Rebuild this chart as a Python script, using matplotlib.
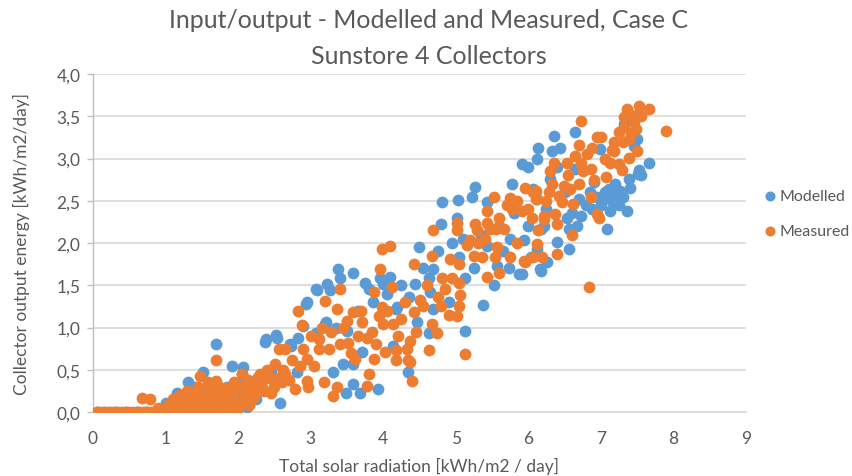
import matplotlib

matplotlib.use("Agg")
import matplotlib.pyplot as plt

plt.rcParams["font.family"] = ["Lato", "DejaVu Sans"]

TITLE_LINES = ["Input/output - Modelled and Measured, Case C", "Sunstore 4 Collectors"]
X_LABEL = "Total solar radiation [kWh/m2 / day]"
Y_LABEL = "Collector output energy [kWh/m2/day]"
SERIES = ["Modelled", "Measured"]
X_TICKS = [0, 1, 2, 3, 4, 5, 6, 7, 8, 9]
Y_TICKS = [0.0, 0.5, 1.0, 1.5, 2.0, 2.5, 3.0, 3.5, 4.0]

# Modelled (blue) points
mod_x = [
    0.05, 0.15, 0.3, 0.45, 0.6, 0.75, 0.9, 1.0, 1.1, 1.2, 1.3, 1.45, 1.6, 1.75,
    1.01, 1.1, 1.16, 1.25, 1.31, 1.38, 1.45, 1.52, 1.6, 1.65, 1.69, 1.75, 1.85,
    1.91, 2.07, 2.12, 2.0, 2.28, 2.2, 2.37, 2.39, 2.45, 2.52, 2.53, 2.58, 2.71,
    2.73, 2.81, 2.83, 2.89, 2.94, 2.95, 3.08, 3.09, 3.08, 3.20, 3.21, 3.22, 3.27,
    3.31, 3.37, 3.41, 3.45, 3.49, 3.50, 3.58, 3.59, 3.59, 3.68, 3.71, 3.75, 3.86,
    3.93, 3.95, 4.00, 4.05, 4.14, 4.18, 4.19, 4.34, 4.35, 4.44, 4.46, 4.49, 4.63,
    4.63, 4.65, 4.69, 4.69, 4.79, 4.81, 4.90, 5.01, 5.03, 5.04, 5.13, 5.13, 5.22,
    5.25, 5.27, 5.38, 5.43, 5.43, 5.52, 5.57, 5.73, 5.77, 5.87, 5.91, 5.91, 5.94,
    6.03, 6.07, 6.12, 6.12, 6.14, 6.16, 6.17, 6.17, 6.21, 6.26, 6.30, 6.33, 6.35,
    6.40, 6.44, 6.53, 6.56, 6.56, 6.65, 6.65, 6.67, 6.70, 6.72, 6.80, 6.88, 6.90,
    6.95, 6.99, 7.02, 7.05, 7.08, 7.11, 7.13, 7.15, 7.20, 7.25, 7.27, 7.32, 7.36,
    7.39, 7.48, 7.50, 7.51, 7.52, 7.55, 7.66,
    1.2, 1.35, 1.55, 1.7, 1.8, 1.95, 2.15, 2.25, 1.4, 2.05,
    3.35, 3.65, 3.8, 4.1, 4.25, 4.55, 4.75, 4.95, 5.1, 5.35, 5.6, 5.8, 5.65,
    5.75, 6.0, 6.25, 6.5, 6.6, 6.85, 7.0, 7.2, 7.3, 7.4, 7.45, 6.4, 6.0,
]
mod_y = [
    0.0, 0.0, 0.0, 0.0, 0.0, 0.0, 0.0, 0.0, 0.0, 0.0, 0.0, 0.0, 0.0, 0.0,
    0.11, 0.05, 0.23, 0.12, 0.35, 0.18, 0.08, 0.47, 0.25, 0.03, 0.80, 0.15, 0.30,
    0.55, 0.53, 0.06, 0.20, 0.39, 0.25, 0.83, 0.86, 0.50, 0.91, 0.88, 0.11, 0.80,
    0.78, 0.47, 0.88, 1.02, 1.28, 1.30, 1.46, 1.44, 0.94, 1.04, 1.06, 1.51, 1.44,
    0.47, 1.69, 1.59, 0.57, 0.23, 0.96, 0.57, 1.65, 0.33, 0.22, 0.71, 1.53, 1.30,
    0.27, 1.59, 1.51, 1.40, 0.78, 1.22, 1.24, 0.47, 1.36, 1.51, 1.06, 1.95, 1.59,
    0.94, 1.42, 1.69, 1.22, 2.22, 2.48, 1.30, 2.30, 2.51, 1.84, 1.59, 0.96, 2.54,
    1.71, 2.66, 1.27, 2.48, 1.97, 1.50, 1.73, 1.71, 2.70, 1.63, 2.93, 1.63, 2.04,
    1.83, 2.64, 2.99, 1.93, 3.13, 1.69, 2.17, 1.67, 2.20, 1.77, 2.76, 3.09, 3.27,
    2.01, 3.13, 2.30, 2.17, 1.93, 3.31, 2.88, 2.20, 2.52, 2.32, 2.45, 2.40, 2.72,
    2.55, 3.11, 2.52, 2.60, 2.17, 2.64, 2.38, 2.50, 2.56, 2.45, 2.62, 3.41, 2.38,
    2.76, 3.50, 3.23, 2.82, 2.86, 2.80, 2.95,
    0.05, 0.10, 0.20, 0.10, 0.20, 0.05, 0.30, 0.15, 0.30, 0.35,
    1.00, 1.20, 1.45, 1.60, 1.50, 1.70, 1.90, 2.00, 2.05, 2.10, 2.20, 2.35, 1.90,
    2.05, 2.20, 2.40, 2.60, 2.35, 2.60, 2.45, 2.70, 2.55, 2.65, 3.15, 2.90, 2.90,
]

# Measured (orange) points
meas_x = [
    0.05, 0.1, 0.15, 0.2, 0.25, 0.3, 0.35, 0.4, 0.45, 0.5, 0.55, 0.6, 0.65, 0.7,
    0.75, 0.8, 0.85, 0.9, 0.95, 1.0, 1.05, 1.1, 1.15, 1.2, 1.25, 1.3, 1.35, 1.4,
    1.45, 1.5, 1.55, 1.6, 1.65, 1.7, 1.75, 1.8, 1.85,
    0.67, 0.79, 0.9, 1.0, 1.05, 1.1, 1.15, 1.2, 1.25, 1.3, 1.35, 1.4, 1.45, 1.48,
    1.5, 1.55, 1.6, 1.62, 1.65, 1.69, 1.69, 1.72, 1.75, 1.8, 1.85, 1.9, 1.91, 1.95,
    1.98, 2.0, 2.05, 2.06, 2.1, 2.17, 2.2, 2.25, 2.3, 2.3, 2.35, 2.37, 2.42, 2.5,
    2.51, 2.56, 2.60, 2.65, 2.74, 2.79, 2.83, 2.88, 2.90, 2.95, 2.95, 2.97, 3.05,
    3.11, 3.11, 3.18, 3.20, 3.25, 3.31, 3.36, 3.36, 3.41, 3.41, 3.50, 3.52, 3.59,
    3.61, 3.71, 3.77, 3.77, 3.80, 3.87, 3.87, 3.94, 3.96, 3.98, 3.98, 4.00, 4.03,
    4.10, 4.12, 4.14, 4.17, 4.17, 4.21, 4.33, 4.34, 4.37, 4.37, 4.39, 4.42, 4.42,
    4.51, 4.63, 4.67, 4.67, 4.69, 4.74, 4.76, 4.81, 4.92, 4.95, 5.01, 5.01, 5.01,
    5.04, 5.04, 5.05, 5.06, 5.13, 5.15, 5.20, 5.27, 5.29, 5.30, 5.36, 5.43, 5.43,
    5.43, 5.47, 5.52, 5.54, 5.56, 5.57, 5.67, 5.75, 5.75, 5.77, 5.91, 5.94, 5.96,
    6.05, 6.07, 6.07, 6.10, 6.10, 6.12, 6.12, 6.14, 6.19, 6.21, 6.21, 6.28, 6.33,
    6.35, 6.37, 6.40, 6.40, 6.42, 6.46, 6.49, 6.53, 6.58, 6.60, 6.62, 6.65, 6.70,
    6.70, 6.72, 6.72, 6.81, 6.83, 6.86, 6.86, 6.88, 6.95, 6.95, 6.97, 7.00, 7.07,
    7.13, 7.18, 7.18, 7.25, 7.25, 7.29, 7.32, 7.32, 7.36, 7.39, 7.39, 7.41, 7.45,
    7.48, 7.50, 7.52, 7.66, 7.90,
    1.12, 1.18, 1.22, 1.28, 1.33, 1.38, 1.42, 1.47, 1.52, 1.57, 1.58, 1.63, 1.67,
    1.70, 1.73, 1.78, 1.82, 1.87, 1.93, 2.02, 2.08, 2.13, 2.22, 2.27, 2.33, 2.40,
    2.45, 2.55, 2.62, 2.70, 1.90, 2.15,
    3.00, 3.15, 3.28, 3.45, 3.55, 3.65, 3.70, 3.85, 3.90, 4.05, 4.25, 4.30, 4.45,
    4.55, 4.60, 4.80, 4.85, 4.90, 2.65, 2.85,
    5.60, 5.70, 5.85, 5.95, 6.00, 6.25, 6.30, 6.55, 6.75, 6.90, 7.05, 7.15, 7.30,
    7.42, 7.55, 5.85, 5.60, 5.25, 5.40,
]
meas_y = [
    0.0, 0.0, 0.0, 0.0, 0.0, 0.0, 0.0, 0.0, 0.0, 0.0, 0.0, 0.0, 0.0, 0.0,
    0.0, 0.0, 0.0, 0.0, 0.0, 0.0, 0.0, 0.0, 0.0, 0.0, 0.0, 0.0, 0.0, 0.0,
    0.0, 0.0, 0.0, 0.0, 0.0, 0.0, 0.0, 0.0, 0.0,
    0.17, 0.15, 0.05, 0.03, 0.10, 0.15, 0.05, 0.20, 0.10, 0.25, 0.05, 0.15, 0.30,
    0.43, 0.10, 0.20, 0.05, 0.30, 0.15, 0.61, 0.37, 0.10, 0.25, 0.05, 0.20, 0.10,
    0.15, 0.35, 0.31, 0.05, 0.45, 0.45, 0.20, 0.23, 0.35, 0.30, 0.35, 0.45, 0.25,
    0.45, 0.40, 0.30, 0.57, 0.75, 0.35, 0.45, 0.61, 0.27, 1.19, 1.03, 0.75, 0.63,
    0.37, 0.29, 0.55, 0.86, 0.75, 0.35, 1.31, 0.75, 0.19, 1.22, 0.29, 1.46, 0.80,
    1.08, 0.82, 1.18, 0.63, 1.07, 0.88, 0.31, 0.45, 1.42, 0.63, 1.14, 1.69, 1.93,
    1.24, 1.04, 0.71, 1.97, 1.48, 1.04, 0.61, 0.73, 0.90, 0.75, 0.61, 0.84, 0.59,
    0.37, 1.75, 1.18, 1.32, 0.73, 1.85, 1.04, 2.15, 0.94, 1.36, 1.59, 1.81, 1.59,
    2.24, 2.15, 1.14, 1.53, 1.26, 1.75, 1.38, 0.69, 1.98, 2.03, 2.22, 2.15, 2.00,
    1.83, 2.24, 2.38, 1.60, 2.16, 2.54, 1.83, 2.16, 1.95, 2.16, 2.53, 1.83, 2.40,
    2.38, 1.79, 1.77, 2.30, 2.60, 1.83, 2.62, 2.52, 2.52, 1.99, 2.15, 1.83, 2.28,
    2.32, 2.60, 2.70, 2.95, 2.34, 2.22, 1.87, 2.56, 2.48, 2.68, 2.95, 2.64, 2.09,
    2.46, 3.03, 3.16, 2.70, 3.44, 2.95, 3.05, 1.48, 2.88, 2.54, 3.13, 3.25, 2.34,
    2.30, 3.25, 2.78, 2.95, 3.19, 3.09, 3.31, 2.93, 2.86, 3.49, 3.37, 3.59, 3.23,
    3.01, 3.51, 3.43, 3.35, 3.09, 3.62, 3.59, 3.33,
    0.08, 0.12, 0.04, 0.16, 0.12, 0.22, 0.08, 0.18, 0.26, 0.12, 0.35, 0.22, 0.08,
    0.18, 0.30, 0.14, 0.28, 0.06, 0.22, 0.12, 0.30, 0.38, 0.18, 0.42, 0.30, 0.50,
    0.22, 0.40, 0.50, 0.38, 0.05, 0.08,
    0.90, 1.00, 0.95, 1.00, 0.70, 0.90, 1.20, 0.95, 0.80, 1.20, 1.10, 1.30, 0.95,
    1.25, 1.50, 1.25, 1.45, 1.15, 0.75, 0.55,
    2.30, 2.45, 2.50, 2.65, 2.40, 2.50, 2.85, 2.80, 2.85, 2.75, 3.00, 3.10, 3.20,
    3.30, 3.50, 2.00, 1.65, 1.85, 2.05,
]

colors = ["#5B9BD5", "#ED7D31"]
grid_color = "#D9D9D9"
text_color = "#595959"

fig = plt.figure(figsize=(8.53, 4.77), dpi=100)
ax = fig.add_axes([93 / 853, 1 - 413 / 477, (746 - 93) / 853, (413 - 75) / 477])

ax.scatter(mod_x, mod_y, s=72, color=colors[0], linewidths=0, label=SERIES[0], zorder=3)
ax.scatter(meas_x, meas_y, s=72, color=colors[1], linewidths=0, label=SERIES[1], zorder=4)

ax.set_xlim(0, 9)
ax.set_ylim(0, 4.0)
ax.set_xticks(X_TICKS)
ax.set_yticks(Y_TICKS)
ax.set_xticklabels([str(t) for t in X_TICKS])
ax.set_yticklabels([f"{t:.1f}".replace(".", ",") for t in Y_TICKS])
ax.tick_params(axis="x", length=0, pad=13, labelsize=12.5, colors=text_color)
ax.tick_params(axis="y", length=4, width=1, color="#BFBFBF", pad=5,
               labelsize=12.5, labelcolor=text_color)

ax.grid(axis="y", color=grid_color, linewidth=1.2, zorder=0)
ax.set_axisbelow(True)
for side in ["top", "right"]:
    ax.spines[side].set_visible(False)
ax.spines["bottom"].set_color(grid_color)
ax.spines["bottom"].set_linewidth(1.2)
ax.spines["left"].set_color("#BFBFBF")
ax.spines["left"].set_linewidth(1.0)

ax.set_xlabel(X_LABEL, fontsize=12.5, color=text_color, labelpad=8)
ax.set_ylabel(Y_LABEL, fontsize=12.5, color=text_color, labelpad=19)

# two title lines placed separately to match the reference spacing
fig.text(0.503, 1 - 20 / 477, TITLE_LINES[0], ha="center", va="center",
         fontsize=18, color=text_color)
fig.text(0.503, 1 - 57 / 477, TITLE_LINES[1], ha="center", va="center",
         fontsize=18, color=text_color)

fig.legend(loc="upper left", bbox_to_anchor=(764 / 853, 1 - 190 / 477),
           frameon=False, fontsize=11.5, labelcolor=text_color,
           handletextpad=0.15, handlelength=0.8, borderpad=0, borderaxespad=0,
           markerscale=0.85, labelspacing=1.3)

fig.savefig("out.png", dpi=100, facecolor="white")
